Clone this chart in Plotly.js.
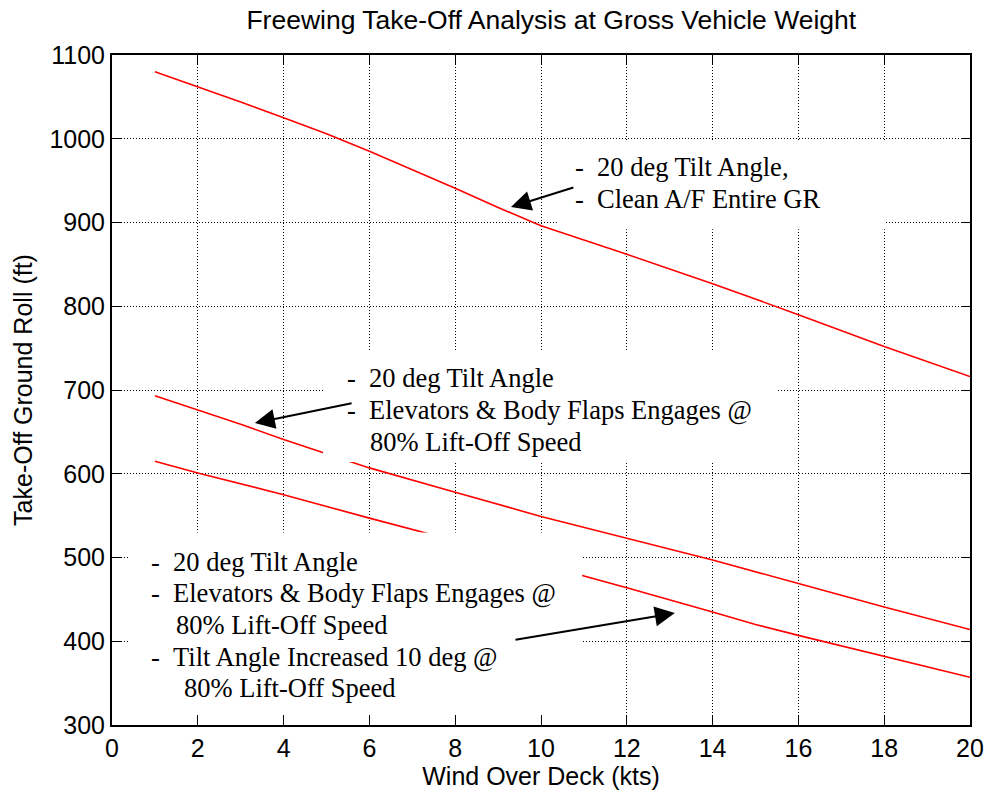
<!DOCTYPE html>
<html>
<head>
<meta charset="utf-8">
<script src="https://cdn.plot.ly/plotly-3.0.1.min.js"></script>
<style>html,body{margin:0;padding:0;background:#fff;}</style>
</head>
<body>
<div id="chart" style="width:989px;height:799px;"></div>
<script>
// ---- data ----
const cleanX = [1, 2, 3, 4, 5, 6, 7, 8, 9, 10, 12, 14, 16, 18, 20];
const cleanY = [1080, 1062, 1044, 1025, 1006, 985, 963, 941, 918, 896, 862, 827, 790, 752, 716];

const flapsX = [1, 2, 3, 4, 5, 6, 8, 10, 12, 14, 16, 18, 20];
const flapsY = [693, 676, 659, 641, 624, 607, 578, 549, 523, 497, 469, 441, 414];

const tiltX = [1, 2, 4, 6, 8, 10, 11, 12, 14, 15, 16, 18, 20];
const tiltY = [615, 601, 575, 547, 520, 492, 478, 464, 435, 420, 407, 382, 357];

const xTicks = [0, 2, 4, 6, 8, 10, 12, 14, 16, 18, 20];
const yTicks = [300, 400, 500, 600, 700, 800, 900, 1000, 1100];

const titleText = 'Freewing Take-Off Analysis at Gross Vehicle Weight';
const xTitle = 'Wind Over Deck (kts)';
const yTitle = 'Take-Off Ground Roll (ft)';

const noteTop = ['-\u00a0\u00a020 deg Tilt Angle,', '-\u00a0\u00a0Clean A/F Entire GR'];
const noteMid = ['-\u00a0\u00a020 deg Tilt Angle', '-\u00a0\u00a0Elevators & Body Flaps Engages @', '80% Lift-Off Speed'];
const noteLow = ['-\u00a0\u00a020 deg Tilt Angle', '-\u00a0\u00a0Elevators & Body Flaps Engages @', '80% Lift-Off Speed',
                 '-\u00a0\u00a0Tilt Angle Increased 10 deg @', '80% Lift-Off Speed'];

// ---- styling / layout ----
const sans = 'Liberation Sans, Arial, Helvetica, sans-serif';
const serif = 'Liberation Serif, Times New Roman, serif';
const lineStyle = {color: '#ff0000', width: 1.6};

const traces = [
  {x: cleanX, y: cleanY, mode: 'lines', line: lineStyle, hoverinfo: 'skip'},
  {x: flapsX, y: flapsY, mode: 'lines', line: lineStyle, hoverinfo: 'skip'},
  {x: tiltX, y: tiltY, mode: 'lines', line: lineStyle, hoverinfo: 'skip'}
];

function textNote(x, y, text) {
  return {x: x, y: y, xref: 'x', yref: 'y', xanchor: 'left', yanchor: 'middle',
          text: text, showarrow: false, font: {family: serif, size: 26.5, color: '#000'}};
}
function arrow(x, y, ax, ay) {
  return {x: x, y: y, ax: ax, ay: ay, xref: 'x', yref: 'y', axref: 'x', ayref: 'y',
          text: '', showarrow: true, arrowhead: 2, arrowsize: 2, arrowwidth: 2,
          arrowcolor: '#000'};
}

const annotations = [
  textNote(10.74, 966.3, noteTop[0]),
  textNote(10.74, 928.1, noteTop[1]),
  textNote(5.43, 714.3, noteMid[0]),
  textNote(5.43, 676.1, noteMid[1]),
  textNote(5.97, 637.9, noteMid[2]),
  textNote(0.86, 494.6, noteLow[0]),
  textNote(0.86, 457.6, noteLow[1]),
  textNote(1.45, 419.4, noteLow[2]),
  textNote(0.86, 381.2, noteLow[3]),
  textNote(1.62, 344.2, noteLow[4]),
  arrow(9.30, 918.5, 10.79, 942.4),
  arrow(3.33, 660.6, 5.62, 684.5),
  arrow(13.12, 433.7, 9.37, 401.5)
];

function box(x0, x1, y0, y1) {
  return {type: 'rect', xref: 'x', yref: 'y', x0: x0, x1: x1, y0: y0, y1: y1,
          fillcolor: '#ffffff', line: {width: 0}, layer: 'above'};
}
const shapes = [
  box(10.37, 18.04, 892, 998),
  box(4.92, 15.52, 614, 746.6),
  box(0.42, 10.96, 313, 530)
];

const axisCommon = {
  showline: true, linecolor: '#000', linewidth: 2, mirror: 'allticks',
  ticks: 'inside', ticklen: 9, tickwidth: 1, tickcolor: '#000',
  showgrid: true, gridcolor: '#000', gridwidth: 1, griddash: '1px,2px',
  zeroline: false, tickfont: {family: sans, size: 25, color: '#000'},
  fixedrange: true
};

const layout = {
  width: 989, height: 799,
  margin: {l: 112, r: 19, t: 55, b: 74},
  paper_bgcolor: '#fff', plot_bgcolor: '#fff',
  showlegend: false,
  title: {text: titleText, font: {family: sans, size: 26.5, color: '#000'},
          x: 0.512, xref: 'paper', xanchor: 'center', y: 0.975, yref: 'container', yanchor: 'middle'},
  xaxis: Object.assign({}, axisCommon, {
    range: [0, 20], tickvals: xTicks, ticktext: xTicks.map(String),
    title: {text: xTitle, font: {family: sans, size: 25, color: '#000'}, standoff: 1}
  }),
  yaxis: Object.assign({}, axisCommon, {
    range: [300, 1100], tickvals: yTicks, ticktext: yTicks.map(String),
    title: {text: yTitle, font: {family: sans, size: 25, color: '#000'}, standoff: 10}
  }),
  annotations: annotations,
  shapes: shapes
};

Plotly.newPlot('chart', traces, layout, {displayModeBar: false, staticPlot: true});
</script>
</body>
</html>
